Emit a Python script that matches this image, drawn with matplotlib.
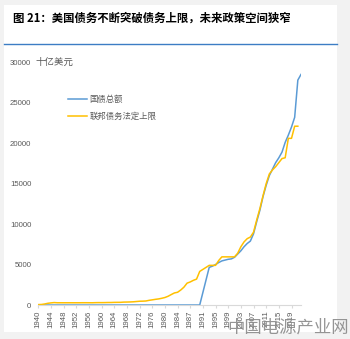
"""US federal debt vs statutory debt limit (recreated chart)."""

import matplotlib

matplotlib.use("Agg")
import matplotlib.pyplot as plt
import numpy as np
from matplotlib.patches import Rectangle

plt.rcParams["font.family"] = ["Liberation Sans", "Noto Sans CJK SC"]

TITLE = "图 21：美国债务不断突破债务上限，未来政策空间狭窄"
UNIT = "十亿美元"
SERIES_NAMES = ["国债总额", "联邦债务法定上限"]
WATERMARK = "中国电源产业网"

# x tick labels, one every 4 categories
TICK_LABELS = [
    "1940", "1944", "1948", "1952", "1956", "1960", "1964", "1968", "1972",
    "1976", "1980", "1984", "1987", "1991", "1995", "1999", "2003", "2007",
    "2011", "2015", "2019",
]
Y_TICKS = [0, 5000, 10000, 15000, 20000, 25000, 30000]

# gross federal debt, billion USD (84 categories)
DEBT_TOTAL = [
    0, 0, 0, 0, 0, 0, 0, 0, 0, 0, 0, 0, 0,
    0, 0, 0, 0, 0, 0, 0, 0, 0, 0, 0, 0, 0,
    0, 0, 0, 0, 0, 0, 0, 0, 0, 0, 0, 0, 0,
    0, 0, 0, 0, 0, 0, 0, 0, 0, 0, 0, 0, 0,
    1550, 3100, 4650, 4800, 5000, 5250, 5450, 5550,
    5650, 5700, 5900, 6300, 6700, 7200, 7600, 7900,
    8800, 10300, 11700, 13400, 14800, 16000, 16800, 17600,
    18200, 18900, 20100, 21000, 22000, 23200, 27800, 28500,
]

# statutory debt limit, billion USD (83 categories)
DEBT_LIMIT = [
    49, 65, 125, 210, 260, 300,
    275, 275, 275, 275, 275, 275, 275, 275,
    281, 281, 278, 275, 288, 295,
    293, 298, 308, 309, 324, 328, 330, 358,
    365, 377, 395, 430, 465, 475, 495, 577,
    636, 700, 752, 830, 925, 1079, 1290, 1490,
    1573, 1850, 2200, 2700, 2850, 3050, 3200, 4150,
    4400, 4650, 4900, 4900, 4900, 5500, 5950, 5950,
    5950, 5950, 5950, 6400, 7200, 7800, 8200, 8400,
    9000, 10500, 11900, 13500, 15000, 16200, 16700, 17100,
    17600, 18100, 18200, 20600, 20600, 22100, 22100,
]

BLUE = "#5B9BD5"
YELLOW = "#FFC000"
GRAY_TEXT = "#595959"
W, H = 350, 339


def main() -> None:
    fig = plt.figure(figsize=(W / 100, H / 100), dpi=100)
    fig.patch.set_facecolor("#F2F2F2")
    fig.patches.append(Rectangle((4 / W, 1 - 332 / H), 333 / W, 327 / H,
                                 transform=fig.transFigure, facecolor="white",
                                 edgecolor="none", zorder=-10))

    fig.text(13 / W, 1 - 18 / H, TITLE, fontsize=8.2, fontweight="bold",
             family=["Noto Sans CJK SC"], va="center", ha="left", color="black")
    fig.add_artist(plt.Line2D([4 / W, 337 / W], [1 - 44 / H, 1 - 44 / H],
                              transform=fig.transFigure, color="#3C7DC4", linewidth=1.0))

    ax = fig.add_axes([38.3 / W, 1 - 305 / H, (301 - 38.3) / W, (305 - 62.3) / H])
    ax.set_facecolor("none")
    ax.set_zorder(1)

    x_total = np.arange(len(DEBT_TOTAL))
    x_limit = np.arange(len(DEBT_LIMIT))
    ax.plot(x_total, DEBT_TOTAL, color=BLUE, linewidth=1.1, label=SERIES_NAMES[0])
    ax.plot(x_limit, DEBT_LIMIT, color=YELLOW, linewidth=1.1, label=SERIES_NAMES[1])

    ax.set_xlim(0, len(DEBT_TOTAL) - 1)
    ax.set_ylim(0, 30000)
    ax.set_yticks(Y_TICKS, [str(v) for v in Y_TICKS])
    ax.set_xticks(np.arange(len(TICK_LABELS)) * 4, TICK_LABELS, rotation=90)

    for side in ["top", "right", "left"]:
        ax.spines[side].set_visible(False)
    ax.spines["bottom"].set_color("#D9D9D9")
    ax.spines["bottom"].set_linewidth(0.8)
    ax.tick_params(axis="y", length=0, pad=5, labelsize=5.6, labelcolor=GRAY_TEXT)
    ax.tick_params(axis="x", length=2.5, color="#D9D9D9", pad=1.5,
                   labelsize=5.6, labelcolor=GRAY_TEXT)

    fig.text(35 / W, 1 - 62.7 / H, UNIT, fontsize=6.8, color=GRAY_TEXT,
             family=["Noto Sans CJK SC"], va="center", ha="left")

    fig.legend(loc="upper left", bbox_to_anchor=(68.3 / W, 1 - 95 / H),
               frameon=False, labelcolor=GRAY_TEXT,
               prop={"family": ["Noto Sans CJK SC"], "size": 6},
               handlelength=2.3, handletextpad=0.25, labelspacing=1.0,
               borderpad=0, borderaxespad=0)

    fig.text(349 / W, 1 - 328 / H, WATERMARK, fontsize=12.5, color="#8A8A8A",
             family=["Noto Sans CJK SC"], va="center", ha="right", alpha=0.9)

    fig.savefig("out.png", dpi=100)
    plt.close(fig)


if __name__ == "__main__":
    main()
